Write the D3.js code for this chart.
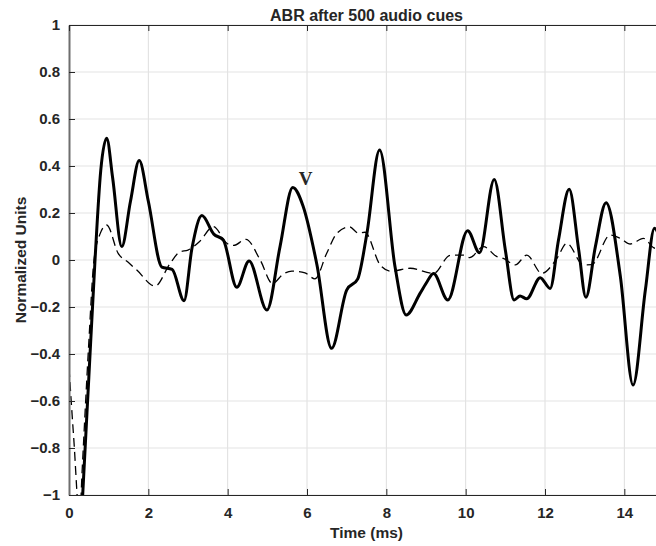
<!DOCTYPE html>
<html>
<head>
<meta charset="utf-8">
<script src="https://cdn.jsdelivr.net/npm/d3@7"></script>
<style>
  body { margin:0; background:#fff; }
  text { font-family:"Liberation Sans", Arial, sans-serif; font-weight:bold; fill:#262626; }
</style>
</head>
<body>
<div id="chart"></div>
<script>
// ABR trace after 500 cues (solid) and the reference trace (dashed)
var solidT = [0.2, 0.345, 0.5, 0.656, 0.8, 0.95, 1.1, 1.33, 1.55, 1.77, 2.0, 2.34, 2.6, 2.9, 3.1, 3.35, 3.65, 3.89, 4.23, 4.54, 4.99, 5.32, 5.64, 5.9, 6.25, 6.62, 7.0, 7.28, 7.51, 7.83, 8.22, 8.5, 8.85, 9.0, 9.19, 9.55, 10.05, 10.35, 10.72, 11.0, 11.22, 11.37, 11.54, 11.88, 12.13, 12.34, 12.61, 12.85, 13.03, 13.27, 13.54, 13.9, 14.22, 14.53, 14.76, 15.0];
var solidV = [-1.5, -1.0, -0.5, 0.0, 0.38, 0.518, 0.35, 0.057, 0.25, 0.423, 0.25, -0.03, -0.04, -0.173, 0.05, 0.189, 0.11, 0.085, -0.116, -0.004, -0.213, 0.057, 0.309, 0.23, -0.02, -0.376, -0.128, -0.08, 0.113, 0.468, -0.03, -0.234, -0.142, -0.1, -0.057, -0.17, 0.125, 0.031, 0.343, 0.043, -0.17, -0.153, -0.165, -0.075, -0.121, 0.085, 0.301, 0.043, -0.159, 0.057, 0.244, -0.07, -0.532, -0.128, 0.135, 0.0];

var dashT = [0, 0.12, 0.27, 0.33, 0.49, 0.63, 0.78, 0.95, 1.24, 1.5, 1.71, 2.17, 2.55, 2.8, 3.0, 3.3, 3.64, 3.98, 4.15, 4.46, 4.82, 5.13, 5.4, 5.62, 5.95, 6.2, 6.5, 6.75, 7.07, 7.3, 7.46, 7.84, 8.12, 8.6, 9.19, 9.61, 9.95, 10.1, 10.45, 10.79, 10.95, 11.25, 11.54, 11.92, 12.3, 12.55, 12.97, 13.18, 13.64, 13.9, 14.15, 14.48, 14.78, 15.0];
var dashV = [-0.46, -0.76, -1.1, -0.9, -0.38, 0.0, 0.11, 0.149, 0.028, -0.011, -0.043, -0.111, -0.014, 0.035, 0.042, 0.08, 0.142, 0.071, 0.062, 0.088, 0.0, -0.1, -0.06, -0.047, -0.055, -0.08, 0.03, 0.113, 0.141, 0.114, 0.118, -0.02, -0.048, -0.035, -0.057, 0.02, 0.021, 0.01, 0.057, 0.014, 0.007, -0.021, 0.021, -0.057, 0.007, 0.071, -0.021, -0.02, 0.106, 0.092, 0.068, 0.092, 0.05, 0.08];

var xTicks = [0, 2, 4, 6, 8, 10, 12, 14];
var yTicks = [-1, -0.8, -0.6, -0.4, -0.2, 0, 0.2, 0.4, 0.6, 0.8, 1];

var peakLabel = "V", peakT = 5.79, peakV = 0.32;

var margin = {top:25, left:69},
    width = 595,
    height = 470;

var svg = d3.select("#chart")
            .append("svg")
            .attr("width", 656)
            .attr("height", 546);

var g = svg.append("g")
           .attr("transform", "translate(" + margin.left + "," + margin.top + ")");

var x = d3.scaleLinear().domain([0, 15]).range([0, width]);
var y = d3.scaleLinear().domain([-1, 1]).range([height, 0]);

g.append("clipPath").attr("id", "clip")
 .append("rect").attr("width", width).attr("height", height);

// grid
g.selectAll(".vgrid").data(xTicks.slice(1)).enter().append("line")
 .attr("x1", function(d){ return x(d); }).attr("x2", function(d){ return x(d); })
 .attr("y1", 0).attr("y2", height)
 .attr("stroke", "#dedede").attr("stroke-width", 1);
g.selectAll(".hgrid").data(yTicks).enter().append("line")
 .attr("x1", 0).attr("x2", width)
 .attr("y1", function(d){ return y(d); }).attr("y2", function(d){ return y(d); })
 .attr("stroke", "#e3e3e3").attr("stroke-width", 1.2);

// curves
var line = d3.line()
             .x(function(d){ return x(d[0]); })
             .y(function(d){ return y(d[1]); })
             .curve(d3.curveMonotoneX);

var plot = g.append("g").attr("clip-path", "url(#clip)");

plot.append("path")
    .datum(d3.zip(dashT, dashV))
    .attr("d", line)
    .attr("fill", "none")
    .attr("stroke", "#000")
    .attr("stroke-width", 1.3)
    .attr("stroke-dasharray", "9,5");

plot.append("path")
    .datum(d3.zip(solidT, solidV))
    .attr("d", line)
    .attr("fill", "none")
    .attr("stroke", "#000")
    .attr("stroke-width", 3)
    .attr("stroke-linejoin", "round");

// axes
var xAxis = d3.axisBottom(x).tickValues(xTicks).tickSizeInner(-6).tickSizeOuter(0).tickPadding(12);
var yAxis = d3.axisLeft(y).tickValues(yTicks).tickSizeInner(-6).tickSizeOuter(0).tickPadding(9)
              .tickFormat(function(d){ return d3.format("")(+d.toFixed(1)); });

var gx = g.append("g").attr("transform", "translate(0," + height + ")").call(xAxis);
var gy = g.append("g").call(yAxis);
var gt = g.append("g").call(d3.axisTop(x).tickValues(xTicks).tickSizeInner(-6).tickSizeOuter(0).tickFormat(""));

[gx, gy, gt].forEach(function(a){
    a.select(".domain").attr("stroke", "#262626").attr("stroke-width", 1.2);
    a.selectAll(".tick line").attr("stroke", "#262626");
    a.selectAll(".tick text").attr("font-size", 15).attr("font-family", null).attr("fill", "#262626");
});
gy.select(".domain").attr("stroke", "#6e6e6e").attr("stroke-width", 2);

// peak marker
g.append("text")
 .attr("x", x(peakT)).attr("y", y(peakV))
 .style("font-family", "'Liberation Serif', 'Times New Roman', serif")
 .attr("font-size", 19)
 .attr("fill", "#000")
 .text(peakLabel);

// labels
svg.append("text")
   .attr("x", margin.left + width / 2).attr("y", 21)
   .attr("text-anchor", "middle").attr("font-size", 16).attr("fill", "#000")
   .text("ABR after 500 audio cues");

svg.append("text")
   .attr("x", margin.left + width / 2).attr("y", 538)
   .attr("text-anchor", "middle").attr("font-size", 15.5)
   .text("Time (ms)");

svg.append("text")
   .attr("transform", "translate(26," + (margin.top + height / 2) + ") rotate(-90)")
   .attr("text-anchor", "middle").attr("font-size", 15.5)
   .text("Normalized Units");
</script>
</body>
</html>
